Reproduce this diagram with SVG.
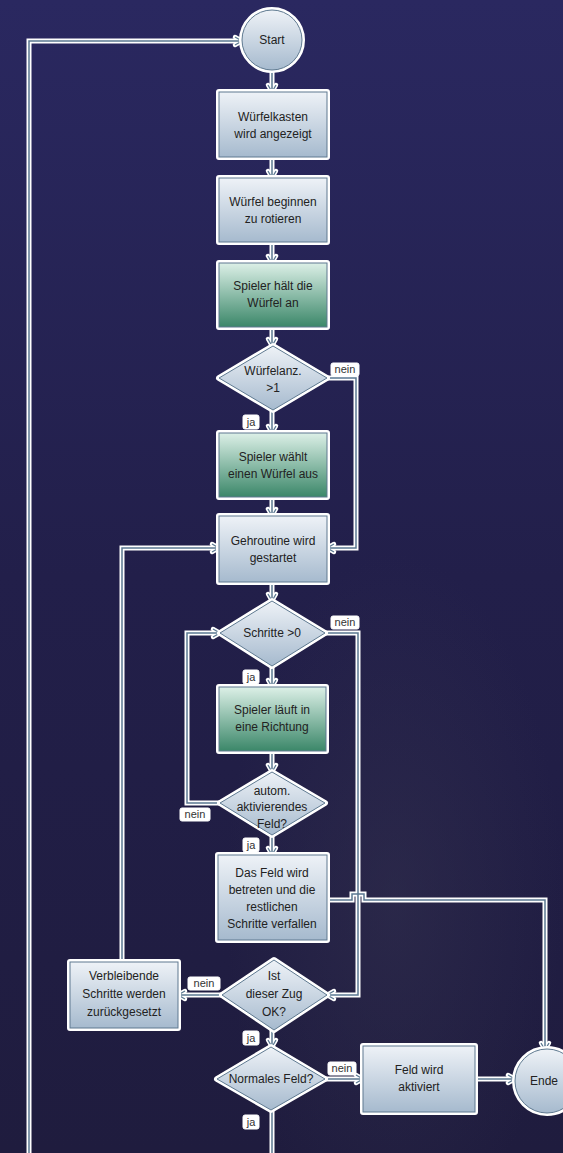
<svg xmlns="http://www.w3.org/2000/svg" width="563" height="1153" viewBox="0 0 563 1153">
<defs>
<linearGradient id="bg" x1="0" y1="0" x2="0" y2="1">
<stop offset="0" stop-color="#2a2860"/>
<stop offset="0.5" stop-color="#221f4a"/>
<stop offset="1" stop-color="#1f1c3e"/>
</linearGradient>
<radialGradient id="glow" cx="0.7" cy="0.78" r="0.3">
<stop offset="0" stop-color="#34324f" stop-opacity="0.5"/>
<stop offset="1" stop-color="#34324f" stop-opacity="0"/>
</radialGradient>
<linearGradient id="blue" x1="0" y1="0" x2="0" y2="1">
<stop offset="0" stop-color="#eef2f7"/>
<stop offset="1" stop-color="#a6bace"/>
</linearGradient>
<linearGradient id="green" x1="0" y1="0" x2="0" y2="1">
<stop offset="0" stop-color="#dcf0e7"/>
<stop offset="1" stop-color="#3b8769"/>
</linearGradient>
<marker id="ah" markerWidth="12" markerHeight="12" refX="9" refY="6" orient="auto" markerUnits="userSpaceOnUse">
<path d="M2,2 L9,6 L2,10" fill="none" stroke="#5b7891" stroke-width="1.3"/>
</marker>
<marker id="ahh" markerWidth="16" markerHeight="16" refX="11" refY="8" orient="auto" markerUnits="userSpaceOnUse">
<path d="M4,4 L11,8 L4,12" fill="none" stroke="#ffffff" stroke-width="4.5" stroke-linejoin="round" stroke-linecap="round"/>
</marker>
<style>
.halo{fill:none;stroke:#ffffff;stroke-width:6;stroke-linejoin:round}
.b{fill:url(#blue);stroke:#5e7990;stroke-width:1}
.g{fill:url(#green);stroke:#5e7990;stroke-width:1}
.t{font-family:"Liberation Sans",Arial,sans-serif;font-size:12px;fill:#222222;text-anchor:middle}
.ch{fill:none;stroke:#ffffff;stroke-width:5;stroke-linejoin:miter}
.c{fill:none;stroke:#5b7891;stroke-width:1.5}
.lb{fill:#ffffff;stroke:#ffffff;stroke-width:1;rx:2}
.lt{font-family:"Liberation Sans",Arial,sans-serif;font-size:11px;fill:#333333;text-anchor:middle}
</style>
</defs>
<rect width="563" height="1153" fill="url(#bg)"/>
<rect width="563" height="1153" fill="url(#glow)"/>

<g id="connectors">
<g class="halos">
<path class="ch" marker-end="url(#ahh)" d="M272,70 V92"/>
<path class="ch" marker-end="url(#ahh)" d="M272,157 V178"/>
<path class="ch" marker-end="url(#ahh)" d="M272,242 V263"/>
<path class="ch" marker-end="url(#ahh)" d="M272,327 V346"/>
<path class="ch" marker-end="url(#ahh)" d="M272,410 V433"/>
<path class="ch" marker-end="url(#ahh)" d="M327,378 H356 V548 H327"/>
<path class="ch" marker-end="url(#ahh)" d="M272,497 V516"/>
<path class="ch" marker-end="url(#ahh)" d="M272,582 V601"/>
<path class="ch" marker-end="url(#ahh)" d="M272,666 V687"/>
<path class="ch" marker-end="url(#ahh)" d="M325,633 H358 V995 H327"/>
<path class="ch" marker-end="url(#ahh)" d="M272,751 V772"/>
<path class="ch" marker-end="url(#ahh)" d="M220,803 H187 V633 H220"/>
<path class="ch" marker-end="url(#ahh)" d="M272,835 V855"/>
<path class="ch" marker-end="url(#ahh)" d="M327,900 H352 V894 H364 V900 H545 V1050"/>
<path class="ch" marker-end="url(#ahh)" d="M222,995 H178"/>
<path class="ch" marker-end="url(#ahh)" d="M122,962 V548 H219"/>
<path class="ch" marker-end="url(#ahh)" d="M272,1030 V1047"/>
<path class="ch" marker-end="url(#ahh)" d="M325,1079 H363"/>
<path class="ch" marker-end="url(#ahh)" d="M475,1079 H515"/>
<path class="ch" d="M272,1110 V1153"/>
<path class="ch" marker-end="url(#ahh)" d="M29,1153 V41 H242"/>
</g>
<g class="lines">
<path class="c" marker-end="url(#ah)" d="M272,70 V92"/>
<path class="c" marker-end="url(#ah)" d="M272,157 V178"/>
<path class="c" marker-end="url(#ah)" d="M272,242 V263"/>
<path class="c" marker-end="url(#ah)" d="M272,327 V346"/>
<path class="c" marker-end="url(#ah)" d="M272,410 V433"/>
<path class="c" marker-end="url(#ah)" d="M327,378 H356 V548 H327"/>
<path class="c" marker-end="url(#ah)" d="M272,497 V516"/>
<path class="c" marker-end="url(#ah)" d="M272,582 V601"/>
<path class="c" marker-end="url(#ah)" d="M272,666 V687"/>
<path class="c" marker-end="url(#ah)" d="M325,633 H358 V995 H327"/>
<path class="c" marker-end="url(#ah)" d="M272,751 V772"/>
<path class="c" marker-end="url(#ah)" d="M220,803 H187 V633 H220"/>
<path class="c" marker-end="url(#ah)" d="M272,835 V855"/>
<path class="c" marker-end="url(#ah)" d="M327,900 H352 V894 H364 V900 H545 V1050"/>
<path class="c" marker-end="url(#ah)" d="M222,995 H178"/>
<path class="c" marker-end="url(#ah)" d="M122,962 V548 H219"/>
<path class="c" marker-end="url(#ah)" d="M272,1030 V1047"/>
<path class="c" marker-end="url(#ah)" d="M325,1079 H363"/>
<path class="c" marker-end="url(#ah)" d="M475,1079 H515"/>
<path class="c" d="M272,1110 V1153"/>
<path class="c" marker-end="url(#ah)" d="M29,1153 V41 H242"/>
</g>
<g class="labels">
<rect class="lb" x="331" y="363" width="28" height="13"/><text class="lt" x="345" y="373">nein</text>
<rect class="lb" x="243" y="415" width="16" height="14"/><text class="lt" x="251" y="426">ja</text>
<rect class="lb" x="331" y="616" width="28" height="13"/><text class="lt" x="345" y="626">nein</text>
<rect class="lb" x="243" y="670" width="16" height="14"/><text class="lt" x="251" y="681">ja</text>
<rect class="lb" x="180" y="808" width="30" height="13"/><text class="lt" x="195" y="818">nein</text>
<rect class="lb" x="243" y="838" width="16" height="14"/><text class="lt" x="251" y="849">ja</text>
<rect class="lb" x="188" y="977" width="32" height="13"/><text class="lt" x="204" y="987">nein</text>
<rect class="lb" x="243" y="1031" width="16" height="14"/><text class="lt" x="251" y="1042">ja</text>
<rect class="lb" x="328" y="1062" width="28" height="13"/><text class="lt" x="342" y="1072">nein</text>
<rect class="lb" x="243" y="1115" width="16" height="14"/><text class="lt" x="251" y="1126">ja</text>
</g>
</g>

<g id="start">
<circle class="halo" cx="272" cy="40" r="30"/>
<circle class="b" cx="272" cy="40" r="30"/>
<text class="t" x="272" y="44">Start</text>
</g>
<g id="wuerfelkasten">
<rect class="halo" x="219" y="92" width="108" height="65"/>
<rect class="b" x="219" y="92" width="108" height="65"/>
<text class="t" x="273" y="121">Würfelkasten</text>
<text class="t" x="273" y="138">wird angezeigt</text>
</g>
<g id="rotieren">
<rect class="halo" x="219" y="178" width="108" height="64"/>
<rect class="b" x="219" y="178" width="108" height="64"/>
<text class="t" x="273" y="206">Würfel beginnen</text>
<text class="t" x="273" y="223">zu rotieren</text>
</g>
<g id="anhalten">
<rect class="halo" x="219" y="263" width="108" height="64"/>
<rect class="g" x="219" y="263" width="108" height="64"/>
<text class="t" x="273" y="290">Spieler hält die</text>
<text class="t" x="273" y="307">Würfel an</text>
</g>
<g id="wuerfelanz">
<path class="halo" d="M273,346 L327,378 L273,410 L219,378 Z"/>
<path class="b" d="M273,346 L327,378 L273,410 L219,378 Z"/>
<text class="t" x="273" y="375">Würfelanz.</text>
<text class="t" x="273" y="392">&gt;1</text>
</g>
<g id="waehlt">
<rect class="halo" x="219" y="433" width="108" height="64"/>
<rect class="g" x="219" y="433" width="108" height="64"/>
<text class="t" x="273" y="461">Spieler wählt</text>
<text class="t" x="273" y="478">einen Würfel aus</text>
</g>
<g id="gehroutine">
<rect class="halo" x="219" y="516" width="108" height="66"/>
<rect class="b" x="219" y="516" width="108" height="66"/>
<text class="t" x="273" y="545">Gehroutine wird</text>
<text class="t" x="273" y="562">gestartet</text>
</g>
<g id="schritte">
<path class="halo" d="M272,601 L325,633 L272,666 L220,633 Z"/>
<path class="b" d="M272,601 L325,633 L272,666 L220,633 Z"/>
<text class="t" x="272" y="637">Schritte &gt;0</text>
</g>
<g id="laeuft">
<rect class="halo" x="219" y="687" width="107" height="64"/>
<rect class="g" x="219" y="687" width="107" height="64"/>
<text class="t" x="272" y="714">Spieler läuft in</text>
<text class="t" x="272" y="731">eine Richtung</text>
</g>
<g id="autom">
<path class="halo" d="M272,772 L325,803 L272,835 L220,803 Z"/>
<path class="b" d="M272,772 L325,803 L272,835 L220,803 Z"/>
<text class="t" x="272" y="795">autom.</text>
<text class="t" x="272" y="811">aktivierendes</text>
<text class="t" x="272" y="828">Feld?</text>
</g>
<g id="betreten">
<rect class="halo" x="218" y="855" width="109" height="85"/>
<rect class="b" x="218" y="855" width="109" height="85"/>
<text class="t" x="272" y="877">Das Feld wird</text>
<text class="t" x="272" y="894">betreten und die</text>
<text class="t" x="272" y="911">restlichen</text>
<text class="t" x="272" y="928">Schritte verfallen</text>
</g>
<g id="zugok">
<path class="halo" d="M274,960 L327,995 L274,1030 L222,995 Z"/>
<path class="b" d="M274,960 L327,995 L274,1030 L222,995 Z"/>
<text class="t" x="274" y="980">Ist</text>
<text class="t" x="274" y="998">dieser Zug</text>
<text class="t" x="274" y="1016">OK?</text>
</g>
<g id="verbleibende">
<rect class="halo" x="70" y="962" width="108" height="66"/>
<rect class="b" x="70" y="962" width="108" height="66"/>
<text class="t" x="124" y="980">Verbleibende</text>
<text class="t" x="124" y="998">Schritte werden</text>
<text class="t" x="124" y="1016">zurückgesetzt</text>
</g>
<g id="normales">
<path class="halo" d="M271,1047 L325,1079 L271,1110 L217,1079 Z"/>
<path class="b" d="M271,1047 L325,1079 L271,1110 L217,1079 Z"/>
<text class="t" x="271" y="1083">Normales Feld?</text>
</g>
<g id="aktiviert">
<rect class="halo" x="363" y="1046" width="112" height="66"/>
<rect class="b" x="363" y="1046" width="112" height="66"/>
<text class="t" x="419" y="1074">Feld wird</text>
<text class="t" x="419" y="1091">aktiviert</text>
</g>
<g id="ende">
<circle class="halo" cx="547" cy="1081" r="32"/>
<circle class="b" cx="547" cy="1081" r="32"/>
<text class="t" x="544" y="1085">Ende</text>
</g>
</svg>
